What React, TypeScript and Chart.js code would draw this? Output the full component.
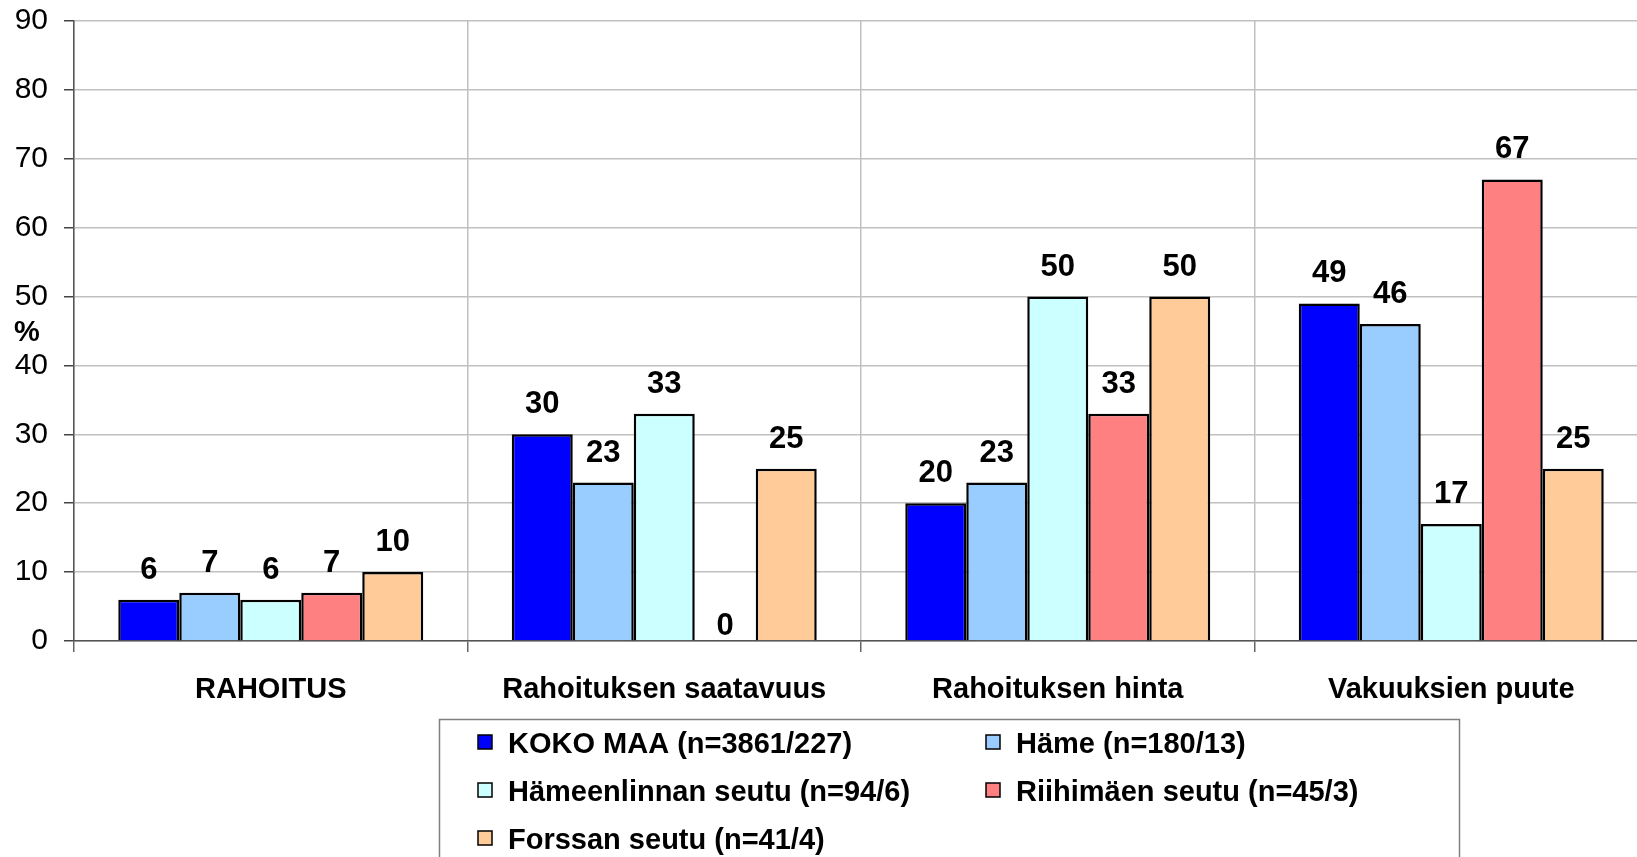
import React, { useEffect, useRef } from "react";
import { Chart, registerables } from "chart.js";

Chart.register(...registerables);

const categories = ["RAHOITUS", "Rahoituksen saatavuus", "Rahoituksen hinta", "Vakuuksien puute"];
const seriesNames = [
  "KOKO MAA (n=3861/227)",
  "Häme (n=180/13)",
  "Hämeenlinnan seutu (n=94/6)",
  "Riihimäen seutu (n=45/3)",
  "Forssan seutu (n=41/4)",
];
const kokoMaa = [6, 30, 20, 49];
const hame = [7, 23, 23, 46];
const hameenlinna = [6, 33, 50, 17];
const riihimaki = [7, 0, 33, 67];
const forssa = [10, 25, 50, 25];
const seriesColors = ["#0000FF", "#99CCFF", "#CCFFFF", "#FF8080", "#FFCC99"];
const yTicks = [0, 10, 20, 30, 40, 50, 60, 70, 80, 90];
const yTitle = "%";

const FONT = "'Liberation Sans', Arial, sans-serif";

const labelsPlugin = {
  id: "customLabels",
  afterDatasetsDraw(chart: any) {
    const ctx = chart.ctx;
    ctx.save();
    ctx.font = `bold 31px ${FONT}`;
    ctx.fillStyle = "#000";
    ctx.textAlign = "center";
    ctx.textBaseline = "alphabetic";
    chart.data.datasets.forEach((ds: any, di: number) => {
      const meta = chart.getDatasetMeta(di);
      meta.data.forEach((el: any, i: number) => {
        const v = ds.data[i];
        const gap = v === 0 ? 6 : 21;
        ctx.fillText(String(v), el.x, el.y - gap);
      });
    });
    ctx.restore();
  },
  afterDraw(chart: any) {
    const ctx = chart.ctx;
    ctx.save();
    // y axis title
    ctx.font = `bold 29px ${FONT}`;
    ctx.fillStyle = "#000";
    ctx.textAlign = "center";
    ctx.textBaseline = "middle";
    ctx.fillText(yTitle, 27, 333);
    // legend box
    ctx.strokeStyle = "#808080";
    ctx.lineWidth = 1.5;
    ctx.strokeRect(439.5, 719.5, 1020, 220);
    const cols = [478, 986];
    const rows = [742, 790, 838];
    ctx.font = `bold 29px ${FONT}`;
    ctx.textAlign = "left";
    ctx.textBaseline = "middle";
    seriesNames.forEach((name, i) => {
      const x = cols[i % 2];
      const y = rows[Math.floor(i / 2)];
      ctx.fillStyle = seriesColors[i];
      ctx.fillRect(x, y - 7, 14, 14);
      ctx.strokeStyle = "#000";
      ctx.lineWidth = 1.5;
      ctx.strokeRect(x, y - 7, 14, 14);
      ctx.fillStyle = "#000";
      ctx.fillText(name, x + 30, y + 3);
    });
    ctx.restore();
  },
};

export default function App() {
  const ref = useRef<HTMLCanvasElement>(null);
  useEffect(() => {
    document.body.style.margin = "0";
    document.body.style.overflow = "hidden";
    const allData = [kokoMaa, hame, hameenlinna, riihimaki, forssa];
    const chart = new Chart(ref.current!, {
      type: "bar",
      data: {
        labels: categories,
        datasets: seriesNames.map((n, i) => ({
          label: n,
          data: allData[i],
          backgroundColor: seriesColors[i],
          borderColor: "#000",
          borderWidth: 2.5,
          categoryPercentage: 0.775,
          barPercentage: 1,
        })),
      },
      options: {
        responsive: false,
        animation: false,
        layout: { padding: { top: 21, right: 12, left: 0, bottom: 0 } },
        plugins: { legend: { display: false }, tooltip: { enabled: false } },
        scales: {
          x: {
            grid: { offset: true, color: "#c0c0c0", lineWidth: 1.5, tickLength: 11, tickColor: "#666" },
            border: { color: "#555", width: 1.5 },
            ticks: { color: "#000", font: { family: FONT, size: 29, weight: "bold" }, padding: 21, maxRotation: 0, autoSkip: false },
            afterFit: (s: any) => { s.height = 216; s.paddingLeft = 0; s.paddingRight = 0; },
          },
          y: {
            min: 0,
            max: 90,
            afterBuildTicks: (s: any) => { s.ticks = yTicks.map((v) => ({ value: v })); },
            grid: { color: "#c0c0c0", lineWidth: 1.5, tickLength: 10, tickColor: "#444" },
            border: { color: "#555", width: 1.5 },
            ticks: { color: "#000", font: { family: FONT, size: 30 }, padding: 16 },
            afterFit: (s: any) => { s.width = 74; s.paddingTop = 0; s.paddingBottom = 0; },
          },
        },
      },
      plugins: [labelsPlugin],
    });
    return () => chart.destroy();
  }, []);
  return <canvas ref={ref} width={1660} height={857} style={{ display: "block" }} />;
}
